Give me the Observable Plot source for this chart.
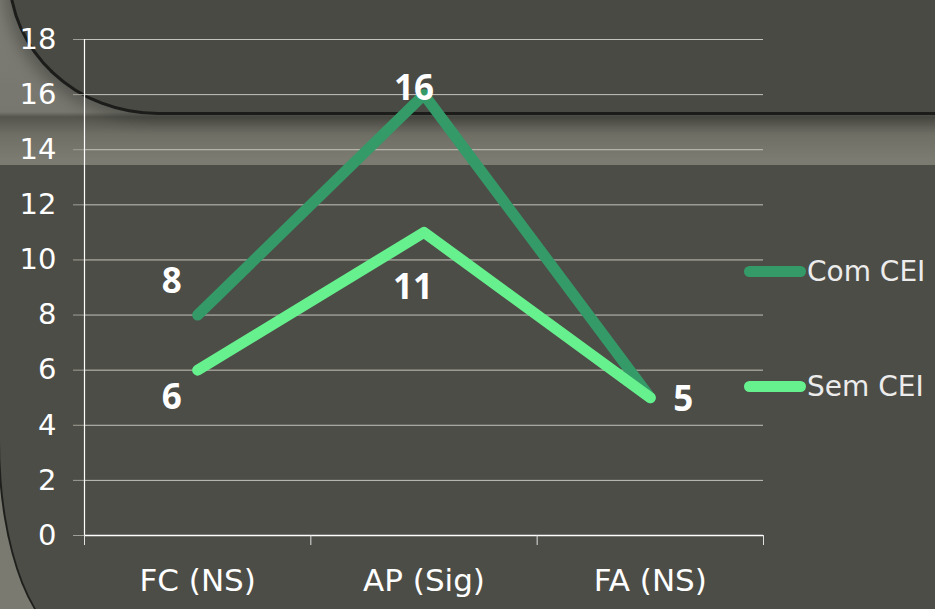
<!DOCTYPE html>
<html><head><meta charset="utf-8">
<script src="https://cdn.jsdelivr.net/npm/d3@7"></script>
<script src="https://cdn.jsdelivr.net/npm/@observablehq/plot@0.6"></script>
<style>
html,body{margin:0;padding:0;background:#4d4d47;}
body{width:935px;height:609px;overflow:hidden;}
#wrap{position:relative;width:935px;height:609px;overflow:hidden;
  background:linear-gradient(to bottom,#7d7d75 0px,#77776f 112px,#55554e 117px,#6f6f66 135px,#7b7b72 160px,#7b7b72 165px,#77776e 165px,#7a7a71 609px);}
#top{position:absolute;left:8px;top:-30px;width:1000px;height:142px;background:#4a4a44;
  border-left:3px solid #1c1c1a;border-bottom:3px solid #1c1c1a;border-bottom-left-radius:150px 140px;
  box-shadow:-6px 6px 14px rgba(0,0,0,0.25);}
#bot{position:absolute;left:-2px;top:165px;width:1000px;height:475px;background:#4d4d47;
  border-left:2px solid #1f1f1d;border-bottom:2px solid #1f1f1d;border-bottom-left-radius:80px 200px;}
#chart{position:absolute;left:0;top:0;}
#legend{position:absolute;left:0;top:0;width:935px;height:609px;pointer-events:none;}
.item{position:absolute;left:744px;display:flex;align-items:center;font-family:"DejaVu Sans",sans-serif;font-size:28px;color:#ececec;}
.sw{width:62px;height:11px;border-radius:6px;margin-right:1px;}
</style>
</head><body>
<div id="wrap"><div id="top"></div><div id="bot"></div><div id="chart"></div><div id="legend"></div></div>
<script>
const categories = ["FC (NS)", "AP (Sig)", "FA (NS)"];
const series = ["Com CEI", "Sem CEI"];
const comCEI = [8, 16, 5];
const semCEI = [6, 11, 5];
const yTicks = [0, 2, 4, 6, 8, 10, 12, 14, 16, 18];
const colors = ["#349a68", "#66f08e"];

const values = [comCEI, semCEI];
const data = series.flatMap((s, si) => categories.map((c, ci) => ({series: s, category: c, idx: ci + 0.5, value: values[si][ci]})));
const boundaries = d3.range(categories.length + 1);
const centers = categories.map((c, i) => i + 0.5);

const font = '"DejaVu Sans", sans-serif';
const labelFont = '"Open Sans", sans-serif';

const pick = (s, c) => data.filter(d => d.series === s && d.category === c);

const plot = Plot.plot({
  width: 935, height: 609,
  marginLeft: 84, marginRight: 172, marginTop: 39, marginBottom: 74,
  style: {background: "transparent", color: "white", fontFamily: font, overflow: "visible"},
  x: {type: "linear", domain: [0, categories.length]},
  y: {domain: [0, 18]},
  color: {domain: series, range: colors},
  marks: [
    Plot.gridY(yTicks, {stroke: "#c4c4bc", strokeOpacity: 1, strokeWidth: 1}),
    Plot.axisY(yTicks, {tickSize: 11, tickPadding: 17, stroke: "#a0a098", fill: "white", fontSize: 29, label: null, tickFormat: d => d}),
    Plot.ruleX([0], {stroke: "white", strokeWidth: 1.2}),
    Plot.ruleY([0], {stroke: "white", strokeWidth: 1.5}),
    Plot.axisX(boundaries, {tickSize: 10, stroke: "#e0e0e0", tickFormat: () => "", label: null}),
    Plot.axisX(centers, {tickSize: 0, tickPadding: 33, fill: "white", fontSize: 31, label: null, tickFormat: d => categories[Math.floor(d)]}),
    Plot.line(data, {x: "idx", y: "value", z: "series", stroke: "series", strokeWidth: 11, strokeLinecap: "round", strokeLinejoin: "round"}),
    Plot.text(pick("Com CEI", "FC (NS)"), {x: "idx", y: "value", text: "value", dx: -26, dy: -33, fill: "white", fontSize: 35, fontWeight: "bold", fontFamily: labelFont}),
    Plot.text(pick("Com CEI", "AP (Sig)"), {x: "idx", y: "value", text: "value", dx: -10, dy: -6, fill: "white", fontSize: 35, fontWeight: "bold", fontFamily: labelFont}),
    Plot.text(pick("Sem CEI", "FC (NS)"), {x: "idx", y: "value", text: "value", dx: -26, dy: 28, fill: "white", fontSize: 35, fontWeight: "bold", fontFamily: labelFont}),
    Plot.text(pick("Sem CEI", "AP (Sig)"), {x: "idx", y: "value", text: "value", dx: -11, dy: 55, fill: "white", fontSize: 35, fontWeight: "bold", fontFamily: labelFont}),
    Plot.text(pick("Sem CEI", "FA (NS)"), {x: "idx", y: "value", text: "value", dx: 33, dy: 2, fill: "white", fontSize: 35, fontWeight: "bold", fontFamily: labelFont})
  ]
});
document.getElementById("chart").appendChild(plot);

const legendTops = [271, 386];
const legend = document.getElementById("legend");
series.forEach((s, i) => {
  const item = document.createElement("div");
  item.className = "item";
  item.style.top = (legendTops[i] - 20) + "px";
  item.style.height = "40px";
  const sw = document.createElement("span");
  sw.className = "sw";
  sw.style.background = colors[i];
  const tx = document.createElement("span");
  tx.textContent = s;
  item.appendChild(sw); item.appendChild(tx);
  legend.appendChild(item);
});
</script>
</body></html>
